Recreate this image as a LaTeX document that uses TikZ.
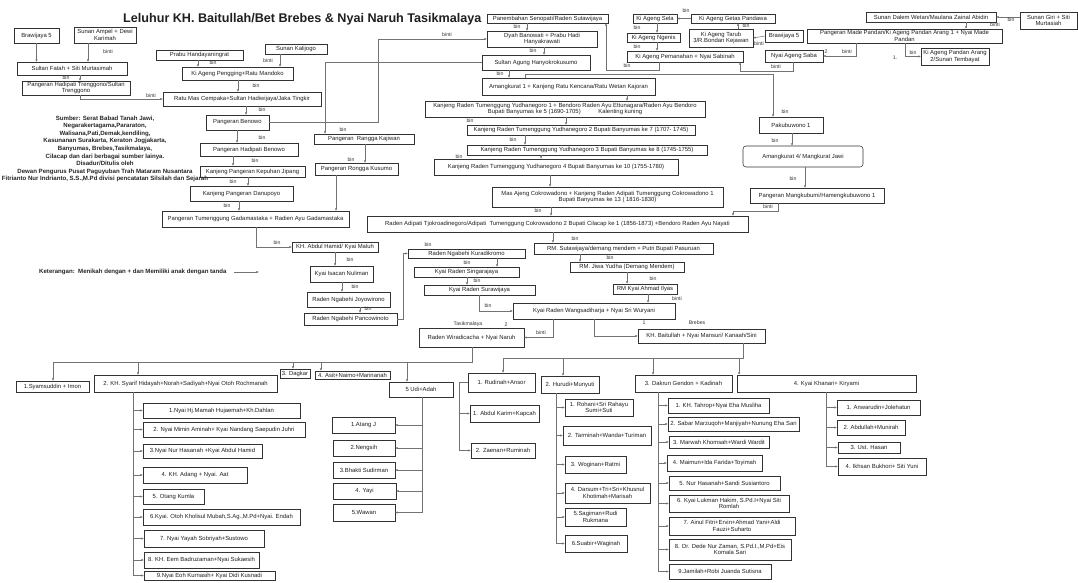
\documentclass[tikz,border=0pt]{standalone}
\usepackage{fontspec}
\setmainfont{Liberation Sans}
\usetikzlibrary{arrows.meta}
\newcommand\fs{\fontsize{5.9}{6.5}\selectfont}
\newcommand\fl{\fontsize{5.2}{6}\selectfont}
\newcommand\mybx[6]{\node[bx,minimum width={(#4-#2)*1pt},minimum height={(#5-#3)*1pt}] (#1) at ({(#2+#4)/2},{(#3+#5)/2}) {#6};}
\tikzset{
 bx/.style={draw=black!80, line width=0.55pt, inner sep=0.4pt, outer sep=0pt, align=center, font=\fs, text=black!88},
 lbl/.style={font=\fl, inner sep=0pt, text=black!80},
 ln/.style={draw=black!55, line width=0.5pt},
 arr/.style={ln, -{Latex[length=2.6pt,width=2.2pt]}},
}
\begin{document}
\begin{tikzpicture}[x=1pt,y=-1pt]
\fill[white] (0,0) rectangle (1078,583);
\useasboundingbox (0,0) rectangle (1078,583);
\node[anchor=west,font=\bfseries\fontsize{12.6}{14}\selectfont,inner sep=0pt,text=black!88] (title) at (123,19) {Leluhur KH. Baitullah/Bet Brebes \& Nyai Naruh Tasikmalaya};

% ---------- top left ----------
\mybx{b5a}{14}{28}{59}{43}{Brawijaya 5}
\mybx{ampel}{74}{27}{136}{43}{Sunan Ampel + Dewi\\Karimah}
\mybx{fatah}{17}{62}{127}{75}{Sultan Fatah + Siti Murtasimah}
\mybx{treng}{22}{81}{130}{95}{Pangeran Hadipati Trenggono/Sultan\\Trenggono}
\mybx{prabu}{156}{50}{243}{60}{Prabu Handayaningrat}
\mybx{kali}{265}{44}{327}{54}{Sunan Kalijogo}
\mybx{pengging}{182}{67}{293}{80}{Ki Ageng Pengging+Ratu Mandoko}
\mybx{cempaka}{163}{92}{321}{106}{Ratu Mas Cempaka+Sultan Hadiwijaya/Jaka Tingkir}
\mybx{benowo}{206}{115}{269}{130}{Pangeran Benowo}
\mybx{hbenowo}{200}{143}{298}{156}{Pangeran Hadipati Benowo}
\mybx{kepuhan}{200}{166}{305}{177}{Kanjeng Pangeran Kepuhan Jipang}
\mybx{danupoyo}{190}{186}{293}{201}{Kanjeng Pangeran Danupoyo}
\mybx{gada}{162}{211}{349}{227}{Pangeran Tumenggung Gadamastaka + Radien Ayu Gadamastaka}
\mybx{kajiwan}{314}{134}{414}{144}{Pangeran\ \ Rangga Kajiwan}
\mybx{kusumo}{315}{163}{398}{175}{Pangeran Rongga Kusumo}
\mybx{hamid}{292}{242}{378}{252}{KH. Abdul Hamid/ Kyai Maluh}
\mybx{isacan}{310}{266}{373}{282}{Kyai Isacan Nuliman}
\mybx{joyo}{307}{292}{390}{307}{Raden Ngabehi Joyowirono}
\mybx{panco}{304}{313}{397}{325}{Raden Ngabehi Pancowinoto}
\mybx{kura}{408}{249}{525}{258}{Raden Ngabehi Kuradikromo}
\mybx{singa}{414}{267}{519}{277}{Kyai Raden Singarajaya}
\mybx{sura}{424}{285}{535}{295}{Kyai Raden Surawijaya}
\mybx{wangsa}{513}{303}{675}{319}{Kyai Raden Wangsadiharja + Nyai Sri Wuryani}
\mybx{wira}{419}{328}{524}{347}{Raden Wiradicacha + Nyai Naruh}
\mybx{bait}{638}{329}{765}{343}{KH. Baitullah + Nyai Mansuri/ Kanaah/Sini}

% ---------- top middle / right ----------
\mybx{seno}{487}{14}{608}{23}{Panembahan Senopati/Raden Sutawijaya}
\mybx{dyah}{487}{31}{597}{47}{Dyah Banowati + Prabu Hadi\\Hanyakrawati}
\mybx{agung}{482}{55}{590}{70}{Sultan Agung Hanyokrokusumo}
\mybx{amang}{482}{78}{655}{95}{Amangkurat 1 + Kanjeng Ratu Kencana/Ratu Wetan Kajoran}
\mybx{sela}{633}{14}{677}{23}{Ki Ageng Sela}
\mybx{getas}{691}{14}{775}{23}{Ki Ageng Getas Pandawa}
\mybx{ngenis}{627}{33}{680}{42}{Ki Ageng Ngenis}
\mybx{pemanahan}{627}{51}{743}{62}{Ki Ageng Pemanahan + Nyai Sabinah}
\mybx{tarub}{689}{29}{753}{47}{Ki Ageng Tarub\\3/R.Bondan Kejawan}
\mybx{b5b}{765}{30}{803}{42}{Brawijaya 5}
\mybx{saba}{765}{50}{823}{62}{Nyai Ageng Saba}
\mybx{zainal}{866}{12}{996}{22}{Sunan Dalem Wetan/Maulana Zainal Abidin}
\mybx{giri}{1020}{12}{1077}{29}{Sunan Giri + Siti\\Murtasiah}
\mybx{pandan}{807}{29}{1002}{43}{Pangeran Made Pandan/Ki Ageng Pandan Arang 1 + Nyai Made\\Pandan}
\mybx{tembayat}{921}{48}{989}{65}{Ki Ageng Pandan Arang\\2/Sunan Tembayat}
\mybx{paku}{759}{117}{823}{133}{Pakubuwono 1}
\node[bx,rounded corners=3pt,minimum width=120pt,minimum height=21pt] (amang4) at (803,156.5) {Amangkurat 4/ Mangkurat Jawi};
\mybx{mangku}{750}{188}{884}{203}{Pangeran Mangkubumi/Hamengkubuwono 1}
\mybx{yudha1}{425}{101}{705}{117}{Kanjeng Raden Tumenggung Yudhanegoro 1 + Bendoro Raden Ayu Ettunagara/Raden Ayu Bendoro\\Bupati Banyumas ke 5 (1690-1705)\qquad\quad Kalenting kuning}
\mybx{yudha2}{467}{125}{695}{135}{Kanjeng Raden Tumenggung Yudhanegoro 2 Bupati Banyumas ke 7 (1707- 1745)}
\mybx{yudha3}{467}{145}{707}{155}{Kanjeng Raden Tumenggung Yudhanegoro 3 Bupati Banyumas ke 8 (1745-1755)}
\mybx{yudha4}{434}{159}{678}{175}{Kanjeng Raden Tumenggung Yudhanegoro 4 Bupati Banyumas ke 10 (1755-1780)}
\mybx{cokro1}{492}{187}{723}{207}{Mas Ajeng Cokrowadono + Kanjeng Raden Adipati Tumenggung Cokrowadono 1\\Bupati Banyumas ke 13 ( 1816-1830)}
\mybx{cokro2}{367}{216}{748}{232}{Raden Adipati Tjokroadinegoro/Adipati\ \ Tumenggung Cokrowadono 2 Bupati Cilacap ke 1 (1856-1873) +Bendoro Raden Ayu Nayati}
\mybx{suta}{534}{243}{713}{254}{RM. Sutawijaya/demang mendem + Putri Bupati Pasuruan}
\mybx{jiwa}{570}{262}{684}{272}{RM. Jiwa Yudha (Demang Mendem)}
\mybx{ilyas}{613}{284}{677}{294}{RM Kyai Ahmad Ilyas}

% ---------- notes ----------
\node[font=\bfseries\fontsize{6.1}{7.6}\selectfont,align=center,inner sep=0pt,text=black!85] (src) at (105,149) {Sumber: Serat Babad Tanah Jawi,\\Negarakertagama,Pararaton,\\Walisana,Pati,Demak,kendiling,\\Kasunanan Surakarta, Keraton Jogjakarta,\\Banyumas, Brebes,Tasikmalaya,\\Cilacap dan dari berbagai sumber lainya.\\Disadur/Ditulis oleh\\Dewan Pengurus Pusat Paguyuban Trah Mataram Nusantara\\Fitrianto Nur Indrianto, S.S.,M.Pd divisi pencatatan Silsilah dan Sejarah};
\node[anchor=west,font=\bfseries\fontsize{6.1}{7}\selectfont,inner sep=0pt,text=black!85] (ket) at (39,272) {Keterangan:\ \ Menikah dengan + dan Memiliki anak dengan tanda};
\coordinate (k1) at (234,272); \coordinate (k2) at (259,272);
\draw[arr] (k1) -- (k2);

% ---------- bottom ----------
\mybx{syam}{16}{381}{89}{392}{1.Syamsuddin + Imon}
\mybx{syarif}{94}{375}{277}{392}{2. KH. Syarif Hidayah+Norah+Sadiyah+Nyai Otoh Rochmanah}
\mybx{dagkar}{280}{369}{310}{378}{3. Dagkar}
\mybx{asit}{315}{371}{390}{379}{4. Asit+Naimo+Marinanah}
\mybx{udi}{389}{382}{453}{397}{5 Udi+Adah}
\mybx{rud}{468}{373}{535}{392}{1. Rudinah+Ansor}
\mybx{hurudi}{541}{376}{599}{393}{2. Hurudi+Munyuti}
\mybx{dakrun}{635}{375}{732}{392}{3. Dakrun Gendon + Kadinah}
\mybx{khanari}{737}{375}{916}{392}{4. Kyai Khanari+ Kiryami}

\mybx{sa}{143}{403}{300}{418}{1.Nyai Hj.Mamah Hujaemah+Kh.Dahlan}
\mybx{sb}{143}{422}{305}{437}{2. Nyai Mimin Aminah+ Kyai Nandang Saepudin Juhri}
\mybx{sc}{143}{444}{262}{458}{3.Nyai Nur Hasanah +Kyai Abdul Hamid}
\mybx{sd}{143}{467}{247}{483}{4. KH. Adang + Nyai. Aat}
\mybx{se}{143}{489}{204}{504}{5. Otang Kumla}
\mybx{sf}{143}{509}{300}{525}{6.Kyai. Otoh Kholisul Mubah,S.Ag.,M.Pd+Nyai. Endah}
\mybx{sg}{144}{530}{264}{547}{7. Nyai Yayah Sobriyah+Sustowo}
\mybx{sh}{144}{552}{259}{568}{8. KH. Eem Badruzaman+Nyai Sukaesih}
\mybx{si}{144}{571}{275}{580}{9.Nyai Eoh Kurnasih+ Kyai Didi Kusnadi}

\mybx{ua}{332}{417}{395}{433}{1.Atang J}
\mybx{ub}{333}{440}{395}{456}{2.Nengsih}
\mybx{uc}{333}{462}{395}{478}{3.Bhakti Sudirman}
\mybx{ud}{333}{483}{396}{499}{4. Yayi}
\mybx{ue}{333}{504}{395}{521}{5.Wawan}

\mybx{ra}{470}{405}{539}{422}{1. Abdul Karim+Kapcah}
\mybx{rb}{471}{443}{535}{458}{2. Zaenan+Ruminah}

\mybx{ha}{565}{399}{633}{416}{1. Rohani+Sri Rahayu\\Sumi+Suti}
\mybx{hb}{563}{426}{651}{445}{2. Tarminah+Wanda+Turiman}
\mybx{hc}{565}{456}{626}{473}{3. Woginan+Ratmi}
\mybx{hd}{565}{483}{650}{503}{4. Darsum+Tri+Sri+Khusnul\\Khotimah+Marisah}
\mybx{he}{565}{508}{626}{526}{5.Sagiman+Rudi\\Rukmana}
\mybx{hf}{565}{535}{627}{552}{6.Suabir+Waginah}

\mybx{da}{668}{398}{769}{413}{1. KH. Tahrop+Nyai Eha Musliha}
\mybx{db}{668}{417}{799}{431}{2. Sabar Marzuqoh+Manjiyah+Nunung Eha Sari}
\mybx{dc}{669}{436}{769}{448}{3. Marwah Khomsah+Wardi Wardit}
\mybx{dd}{667}{455}{762}{471}{4. Maimun+Ida Farida+Toyimah}
\mybx{de}{669}{476}{780}{490}{5. Nur Hasanah+Sandi Susiantoro}
\mybx{df}{669}{495}{789}{512}{6. Kyai Lukman Hakim, S.Pd.I+Nyai Siti\\Romlah}
\mybx{dg}{669}{517}{795}{535}{7. Ainul Fitri+Ervin+Ahmad Yani+Aldi\\Fauzi+Suharto}
\mybx{dh}{669}{539}{791}{560}{8. Dr. Dede Nur Zaman, S.Pd.I.,M.Pd+Eis\\Komala Sari}
\mybx{di}{669}{564}{771}{579}{9.Jamilah+Robi Juanda Sutisna}

\mybx{ka}{837}{400}{920}{415}{1. Anwarudin+Jolehatun}
\mybx{kb}{837}{420}{905}{435}{2. Abdullah+Munirah}
\mybx{kc}{838}{442}{900}{453}{3. Ust. Hasan}
\mybx{kd}{838}{458}{926}{475}{4. Ikhsan Bukhori+ Siti Yuni}

% ---------- connectors: top left ----------
\draw[arr] (b5a.south) -- (b5a.south |- fatah.north);
\draw[arr] (ampel.south -| 88,0) -- (fatah.north -| 88,0);
\node[lbl] (l1) at (108,52) {binti};
\draw[arr] (fatah.south -| 80,0) -- (treng.north -| 80,0);
\node[lbl] (l2) at (66,78) {bin};
\draw[arr] (treng.south -| 80,0) |- (cempaka.west);
\node[lbl] (l3) at (151,96) {binti};
\draw[arr] (prabu.south -| 198,0) -- (pengging.north -| 198,0);
\node[lbl] (l4) at (213,63) {bin};
\draw[arr] (kali.south -| 280,0) -- (pengging.north -| 280,0);
\node[lbl] (l5) at (268,61) {binti};
\draw[arr] (pengging.south -| 238,0) -- (cempaka.north -| 238,0);
\node[lbl] (l6) at (256,86) {bin};
\draw[arr] (cempaka.south -| 246,0) -- (benowo.north -| 246,0);
\node[lbl] (l7) at (262,110) {bin};
\draw[arr] (benowo.south -| 237,0) -- (hbenowo.north -| 237,0);
\node[lbl] (l8) at (262,138) {bin};
\draw[arr] (hbenowo.south -| 233,0) -- (kepuhan.north -| 233,0);
\node[lbl] (l9) at (255,161) {bin};
\draw[arr] (kepuhan.south -| 248,0) -- (danupoyo.north -| 248,0);
\node[lbl] (l10) at (233,182) {bin};
\draw[arr] (danupoyo.south -| 239,0) -- (gada.north -| 239,0);
\node[lbl] (l11) at (227,206) {bin};
\coordinate (c1) at (378,39);
\draw[arr] (benowo.east) -| (c1) -- (dyah.west);
\node[lbl] (l12) at (447,35) {binti};
\coordinate (c2) at (325,62.5);
\draw[arr] (agung.west) -- (c2) -- (kajiwan.north -| c2);
\node[lbl] (l13) at (343,130) {bin};
\draw[arr] (kajiwan.south -| 365,0) -- (kusumo.north -| 365,0);
\node[lbl] (l14) at (351,160) {bin};
\draw[arr] (kusumo.south -| 336,0) -- (gada.north -| 336,0);
\draw[arr] (gada.south -| 256,0) |- (hamid.west);
\node[lbl] (l15) at (277,243) {bin};
\draw[arr] (hamid.south -| 335,0) -- (isacan.north -| 335,0);
\node[lbl] (l16) at (350,260) {bin};
\draw[arr] (isacan.south -| 342,0) -- (joyo.north -| 342,0);
\node[lbl] (l17) at (355,287) {bin};
\draw[arr] (joyo.south -| 360,0) -- (panco.north -| 360,0);
\node[lbl] (l18) at (368,309) {bin};
\coordinate (c3) at (403,319);
\draw[arr] (panco.east) -- (c3) |- (kura.west);
\node[lbl] (l19) at (428,245) {bin};
\draw[arr] (kura.south -| 497,0) -- (singa.north -| 497,0);
\node[lbl] (l20) at (467,263) {bin};
\draw[arr] (singa.south -| 467,0) -- (sura.north -| 467,0);
\node[lbl] (l21) at (477,281) {bin};
\draw[arr] (sura.south -| 479,0) |- (wangsa.west);
\node[lbl] (l22) at (488,306) {bin};
\draw[arr] (wangsa.south -| 553,0) |- (wira.east);
\node[lbl] (l23) at (541,333) {binti};
\draw[arr] (wangsa.south -| 594,0) |- (bait.west);
\node[lbl] (l24) at (644,323) {1};
\node[lbl] (l25) at (697,323) {Brebes};
\node[lbl] (l26) at (468,324) {Tasikmalaya};
\node[lbl] (l27) at (506,325) {2};

% ---------- connectors: top middle/right ----------
\draw[arr] (seno.south -| 527,0) -- (dyah.north -| 527,0);
\node[lbl] (l28) at (517,27) {bin};
\draw[arr] (dyah.south -| 544,0) -- (agung.north -| 544,0);
\node[lbl] (l29) at (533,51) {bin};
\draw[arr] (agung.south -| 509,0) -- (amang.north -| 509,0);
\node[lbl] (l30) at (500,74) {bin};
\coordinate (c4) at (659,70); \coordinate (c5) at (606,70);
\draw[arr] (pemanahan.south -| c4) -- (c4) -- (c5) -- (seno.south -| c5);
\node[lbl] (l31) at (627,66) {bin};
\draw[arr] (sela.south -| 657,0) -- (ngenis.north -| 657,0);
\node[lbl] (l32) at (637,28) {bin};
\draw[arr] (ngenis.south -| 657,0) -- (pemanahan.north -| 657,0);
\node[lbl] (l33) at (637,47) {bin};
\draw[arr] (getas.west) -- (sela.east);
\node[lbl] (l34) at (686,11) {bin};
\draw[arr] (tarub.north -| 738,0) -- (getas.south -| 738,0);
\node[lbl] (l35) at (746,26) {bin};
\draw[arr] (b5b.west) -- (tarub.east);
\node[lbl] (l36) at (759,44) {binti};
\coordinate (c6) at (793,71); \coordinate (c7) at (740,71);
\draw[arr] (saba.south -| c6) -- (c6) -- (c7) -- (pemanahan.south -| c7);
\node[lbl] (l37) at (776,67) {binti};
\draw[arr] (pandan.south -| 856,0) |- (saba.east);
\node[lbl] (l38) at (847,52) {binti};
\node[lbl] (l39) at (826,52) {2};
\draw[arr] (pandan.south -| 905,0) |- (tembayat.west);
\node[lbl] (l40) at (913,53) {bin};
\node[lbl] (l41) at (895,58) {1.};
\draw[arr] (zainal.south -| 966,0) -- (pandan.north -| 966,0);
\node[lbl] (l42) at (995,25) {binti};
\draw[arr] (giri.west |- zainal.east) -- (zainal.east);
\node[lbl] (l43) at (1011,20) {bin};
\coordinate (c8) at (525,74); \coordinate (c9) at (773,74);
\draw[arr] (amang.north -| c8) -- (c8) -- (c9) -- (paku.north -| c9);
\node[lbl] (l44) at (785,112) {bin};
\draw[arr] (paku.south -| 792,0) -- (amang4.north -| 792,0);
\node[lbl] (l45) at (775,141) {bin};
\draw[arr] (amang4.south -| 805,0) -- (mangku.north -| 805,0);
\node[lbl] (l46) at (793,179) {bin};
\draw[arr] (amang.south -| 627,0) -- (yudha1.north -| 627,0);
\draw[arr] (yudha1.south -| 566,0) -- (yudha2.north -| 566,0);
\node[lbl] (l47) at (470,121) {bin};
\draw[arr] (yudha2.south -| 525,0) -- (yudha3.north -| 525,0);
\node[lbl] (l48) at (513,140) {bin};
\draw[arr] (yudha3.south -| 541,0) -- (yudha4.north -| 541,0);
\node[lbl] (l49) at (459,157) {bin};
\draw[arr] (yudha4.south -| 550,0) -- (cokro1.north -| 550,0);
\draw[arr] (cokro1.south -| 551,0) -- (cokro2.north -| 551,0);
\node[lbl] (l50) at (538,211) {bin};
\coordinate (c10) at (778,211); \coordinate (c11) at (733,211);
\draw[arr] (mangku.south -| c10) -- (c10) -- (c11) -- (cokro2.north -| c11);
\node[lbl] (l51) at (768,207) {binti};
\draw[arr] (cokro2.south -| 553,0) -- (suta.north -| 553,0);
\node[lbl] (l52) at (575,239) {bin};
\draw[arr] (suta.south -| 580,0) -- (jiwa.north -| 580,0);
\node[lbl] (l53) at (610,258) {bin};
\draw[arr] (jiwa.south -| 627,0) -- (ilyas.north -| 627,0);
\node[lbl] (l54) at (653,279) {bin};
\draw[arr] (ilyas.south -| 648,0) -- (wangsa.north -| 648,0);
\node[lbl] (l55) at (677,299) {binti};

% ---------- connectors: bottom ----------
\coordinate (wb) at (472,362);
\draw[ln] (wira.south -| wb) -- (wb) -- (wb -| 53,0);
\draw[arr] (wb -| 53,0) -- (syam.north -| 53,0);
\draw[arr] (wb -| 138,0) -- (syarif.north -| 138,0);
\draw[arr] (wb -| 293,0) -- (dagkar.north -| 293,0);
\draw[arr] (wb -| 321,0) -- (asit.north -| 321,0);
\draw[arr] (wb -| 407,0) -- (udi.north -| 407,0);
\coordinate (bb) at (743,358);
\draw[ln] (bait.south -| bb) -- (bb) -- (bb -| 503,0);
\draw[arr] (bb -| 503,0) -- (rud.north -| 503,0);
\draw[arr] (bb -| 563,0) -- (hurudi.north -| 563,0);
\draw[arr] (bb -| 653,0) -- (dakrun.north -| 653,0);
\draw[arr] (bb -| 739,0) -- (khanari.north -| 739,0);

\draw[arr] (syarif.south -| 133,0) |- (si.west);
\foreach \n in {sa,sb,sc,sd,se,sf,sg,sh} \draw[arr] (\n.west -| 133,0) -- (\n.west);
\draw[arr] (udi.south -| 422,0) |- (ue.east);
\foreach \n in {ua,ub,uc,ud} \draw[arr] (\n.east -| 422,0) -- (\n.east);
\draw[arr] (rud.west) -| (rb.west -| 459,0) -- (rb.west);
\draw[arr] (ra.west -| 459,0) -- (ra.west);
\draw[arr] (hurudi.south -| 556,0) |- (hf.west);
\foreach \n in {ha,hb,hc,hd,he} \draw[arr] (\n.west -| 556,0) -- (\n.west);
\draw[arr] (dakrun.south -| 658,0) |- (di.west);
\foreach \n in {da,db,dc,dd,de,df,dg,dh} \draw[arr] (\n.west -| 658,0) -- (\n.west);
\draw[arr] (khanari.south -| 826,0) |- (kd.west);
\foreach \n in {ka,kb,kc} \draw[arr] (\n.west -| 826,0) -- (\n.west);
\end{tikzpicture}
\end{document}
